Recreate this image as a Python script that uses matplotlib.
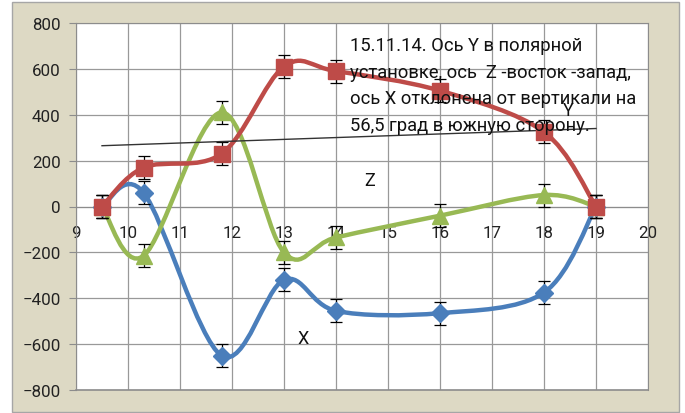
import numpy as np
import matplotlib
matplotlib.use("Agg")
import matplotlib.pyplot as plt
from matplotlib.path import Path
from matplotlib.patches import PathPatch, Rectangle

plt.rcParams['font.family'] = ['Roboto', 'DejaVu Sans']

# ---- data ----
x_vals = [9.5, 10.3, 11.8, 13, 14, 16, 18, 19]
x_series = [0, 60, -650, -320, -455, -465, -375, 0]      # X (blue)
y_series = [0, 170, 230, 610, 590, 505, 325, 0]          # Y (red)
z_series = [0, -215, 410, -200, -135, -40, 50, 0]        # Z (green)
err = 50
trend_x = [9.5, 19]
trend_y = [265, 340]
x_ticks = list(range(9, 21))
y_ticks = list(range(-800, 801, 200))
note = ("15.11.14. Ось Y в полярной\n"
        "установке, ось  Z -восток -запад,\n"
        "ось X отклонена от вертикали на\n"
        "56,5 град в южную сторону.")

W, H = 685, 414
fig = plt.figure(figsize=(W / 100, H / 100), dpi=100)
fig.patch.set_facecolor('white')
bg = Rectangle((12 / W, 1 / H), 667 / W, 410 / H,
               transform=fig.transFigure, facecolor='#ddd9c4',
               edgecolor='#a6a6a6', lw=1.0, zorder=-10)
fig.add_artist(bg)

ax = fig.add_axes([76 / W, (H - 391) / H, (648 - 76) / W, (391 - 24) / H])
ax.set_zorder(1)
ax.set_xlim(9, 20)
ax.set_ylim(-800, 800)
ax.set_facecolor('white')

ax.set_xticks(x_ticks)
ax.set_yticks(y_ticks)
ax.grid(True, color='#999999', lw=0.9)
ax.set_axisbelow(True)
for s in ['top', 'right', 'left']:
    ax.spines[s].set_color('#8c8c8c')
ax.spines['bottom'].set_position(('data', 0))
ax.spines['bottom'].set_color('#8c8c8c')
ax.tick_params(axis='y', length=5, color='#8c8c8c', labelsize=12.2, pad=6,
               labelcolor='#222222')
ax.tick_params(axis='x', length=0, labelsize=12.2, pad=13, labelcolor='#222222')
ax.axhline(-800, color='#8c8c8c', lw=1.2, clip_on=False)


def smooth_path(xs, ys):
    verts = [(xs[0], ys[0])]
    codes = [Path.MOVETO]
    n = len(xs)
    for i in range(n - 1):
        p0 = np.array([xs[max(i - 1, 0)], ys[max(i - 1, 0)]], float)
        p1 = np.array([xs[i], ys[i]], float)
        p2 = np.array([xs[i + 1], ys[i + 1]], float)
        p3 = np.array([xs[min(i + 2, n - 1)], ys[min(i + 2, n - 1)]], float)
        c1 = p1 + (p2 - p0) / 6.0
        c2 = p2 - (p3 - p1) / 6.0
        verts += [tuple(c1), tuple(c2), tuple(p2)]
        codes += [Path.CURVE4] * 3
    return Path(verts, codes)


series = [
    (x_series, '#4a7ebb', 'D', 9),
    (z_series, '#98b954', '^', 12),
    (y_series, '#be4b48', 's', 11.5),
]
for ys, col, mk, ms in series:
    ax.add_patch(PathPatch(smooth_path(x_vals, ys), facecolor='none',
                           edgecolor=col, lw=3.2, zorder=3, capstyle='round'))
    ax.errorbar(x_vals, ys, yerr=err, fmt='none', ecolor='black', elinewidth=0.9,
                capsize=4, capthick=0.9, zorder=4)
    ax.plot(x_vals, ys, linestyle='none', marker=mk, markersize=ms, color=col,
            zorder=5)

ax.plot(trend_x, trend_y, color='#333333', lw=1.0, zorder=4)

ax.text(350 / W, (H - 37) / H, note, transform=fig.transFigure, fontsize=13.2,
        va='top', ha='left', color='#111111', linespacing=1.62, zorder=6)
ax.text(568 / W, (H - 111) / H, 'Y', transform=fig.transFigure, fontsize=13,
        ha='center', va='center', color='#111111')
ax.text(370 / W, (H - 181) / H, 'Z', transform=fig.transFigure, fontsize=13,
        ha='center', va='center', color='#111111')
ax.text(303 / W, (H - 339) / H, 'X', transform=fig.transFigure, fontsize=13,
        ha='center', va='center', color='#111111')

fig.savefig('out.png', dpi=100)
